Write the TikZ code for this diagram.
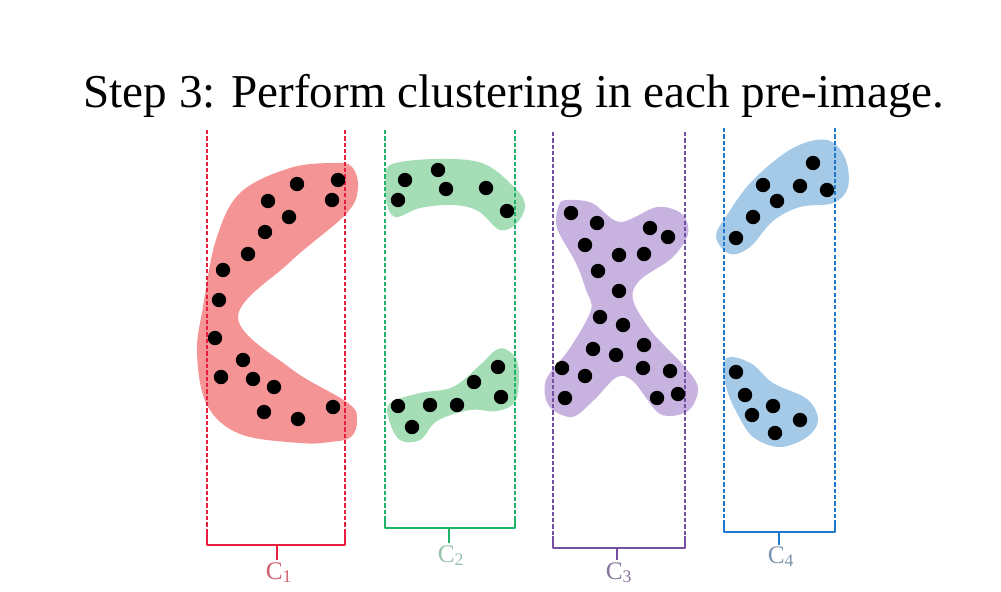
\documentclass[tikz,border=0pt]{standalone}
\usepackage{fontspec}
\setmainfont{Liberation Serif}
\usetikzlibrary{calc}
\definecolor{redfill}{RGB}{245,148,148}
\definecolor{greenfill}{RGB}{165,222,182}
\definecolor{purplefill}{RGB}{200,178,224}
\definecolor{bluefill}{RGB}{165,202,232}
\definecolor{redline}{RGB}{232,30,62}
\definecolor{greenline}{RGB}{30,180,105}
\definecolor{purpleline}{RGB}{115,80,160}
\definecolor{blueline}{RGB}{30,120,205}
\definecolor{redlab}{RGB}{205,95,110}
\definecolor{greenlab}{RGB}{150,195,172}
\definecolor{purplelab}{RGB}{135,115,160}
\definecolor{bluelab}{RGB}{125,148,172}
\tikzset{
  guide/.style={dashed, dash pattern=on 3pt off 1.5pt, line width=0.9pt},
  bracket/.style={line width=1.3pt, line join=round},
  dot/.style={fill=black},
  clab/.style={font=\fontsize{18}{20}\selectfont, inner sep=0pt},
}
\newcommand{\putdots}[1]{\foreach \p in {#1} {\fill[dot] \p circle[radius=0.18cm];}}
\begin{document}
\begin{tikzpicture}[x=0.025cm,y=-0.025cm]
\useasboundingbox (0,0) rectangle (1001,592);
% title
\node[anchor=base, inner sep=0pt, font=\fontsize{33.5}{40}\selectfont] (title) at (514,107) {Step 3: Perform clustering in each pre-image.};

% ---------- blobs ----------
\fill[redfill] plot[smooth cycle, tension=0.6] coordinates {
 (335,163) (352,167) (358,188) (346,214) (290,262) (238,317) (290,368) (348,403) (357,420) (351,437) (330,442)
 (300,443) (240,434) (207,405) (197,353) (203,307) (216,240) (240,193) (290,168)};
\fill[greenfill] plot[smooth cycle, tension=0.6] coordinates {
 (392,164) (437,159) (482,163) (512,185) (525,204) (517,223) (500,230) (478,211)
 (453,205) (420,208) (395,217) (386,200) (386,178)};
\fill[greenfill] plot[smooth cycle, tension=0.6] coordinates {
 (507,350) (518,364) (516,400) (497,411) (470,410) (437,421) (420,440) (400,440)
 (389,420) (390,403) (420,393) (453,387) (480,365) (496,350)};
\fill[purplefill] plot[smooth cycle, tension=0.55] coordinates {
 (567,200) (592,203) (620,222) (657,207) (682,214) (688,234) (672,258) (640,280)
 (633,300) (652,332) (684,366) (698,388) (688,411) (660,414) (634,382) (617,377)
 (594,400) (572,417) (549,406) (546,380) (570,348) (591,310) (586,290) (576,263)
 (557,228) (559,205)};
\fill[bluefill] plot[smooth cycle, tension=0.6] coordinates {
 (827,140) (845,158) (848,187) (833,203) (800,207) (773,221) (750,247) (730,254)
 (716,237) (727,215) (753,180) (793,148)};
\fill[bluefill] plot[smooth cycle, tension=0.6] coordinates {
 (730,357) (752,364) (773,383) (807,399) (818,420) (807,437) (780,447) (753,437)
 (737,413) (727,390) (723,367)};

% ---------- guides and brackets ----------
\coordinate (r1) at (207,130); \coordinate (r2) at (207,545); \coordinate (r3) at (345,545); \coordinate (r4) at (345,130);
\coordinate (rm) at (277,545); \coordinate (rt) at (277,560);
\coordinate (g1) at (385,130); \coordinate (g2) at (385,528); \coordinate (g3) at (515,528); \coordinate (g4) at (515,130);
\coordinate (gm) at (449,528); \coordinate (gt) at (449,543);
\coordinate (p1) at (553,132); \coordinate (p2) at (553,548); \coordinate (p3) at (685,548); \coordinate (p4) at (685,132);
\coordinate (pm) at (617,548); \coordinate (pt) at (617,560);
\coordinate (b1) at (724,128); \coordinate (b2) at (724,532); \coordinate (b3) at (835,532); \coordinate (b4) at (835,128);
\coordinate (bm) at (779,532); \coordinate (bt) at (779,545);

\draw[guide, redline] (r1) -- (r2); \draw[guide, redline] (r4) -- (r3);
\draw[bracket, redline] ($(r2)+(0,-12)$) -- (r2) -- (r3) -- ($(r3)+(0,-12)$); \draw[bracket, redline] (rm) -- (rt);
\draw[guide, greenline] (g1) -- (g2); \draw[guide, greenline] (g4) -- (g3);
\draw[bracket, greenline] ($(g2)+(0,-12)$) -- (g2) -- (g3) -- ($(g3)+(0,-12)$); \draw[bracket, greenline] (gm) -- (gt);
\draw[guide, purpleline] (p1) -- (p2); \draw[guide, purpleline] (p4) -- (p3);
\draw[bracket, purpleline] ($(p2)+(0,-12)$) -- (p2) -- (p3) -- ($(p3)+(0,-12)$); \draw[bracket, purpleline] (pm) -- (pt);
\draw[guide, blueline] (b1) -- (b2); \draw[guide, blueline] (b4) -- (b3);
\draw[bracket, blueline] ($(b2)+(0,-12)$) -- (b2) -- (b3) -- ($(b3)+(0,-12)$); \draw[bracket, blueline] (bm) -- (bt);

\node[clab, text=redlab, anchor=north] (c1) at (279,562) {C\textsubscript{1}};
\node[clab, text=greenlab, anchor=north] (c2) at (451,545) {C\textsubscript{2}};
\node[clab, text=purplelab, anchor=north] (c3) at (619,562) {C\textsubscript{3}};
\node[clab, text=bluelab, anchor=north] (c4) at (781,546) {C\textsubscript{4}};

% ---------- dots ----------
\putdots{(338,180),(297,184),(332,200),(268,201),(289,217),(265,232),(248,254),(223,270),(219,300),(215,338),(243,360),(221,377),(253,379),(274,387),(264,412),(298,419),(333,407)}
\putdots{(405,180),(438,170),(398,200),(446,189),(486,188),(507,211),(498,367),(474,382),(501,397),(398,406),(430,405),(457,405),(412,427)}
\putdots{(571,213),(597,223),(650,228),(668,237),(585,245),(619,255),(644,254),(598,271),(619,291),(600,317),(623,325),(593,349),(616,355),(644,345),(562,368),(585,376),(643,368),(670,371),(565,398),(657,398),(678,394)}
\putdots{(813,163),(763,185),(800,186),(827,190),(777,201),(753,217),(736,238),(736,372),(745,395),(773,406),(752,415),(800,420),(775,433)}
\end{tikzpicture}
\end{document}
